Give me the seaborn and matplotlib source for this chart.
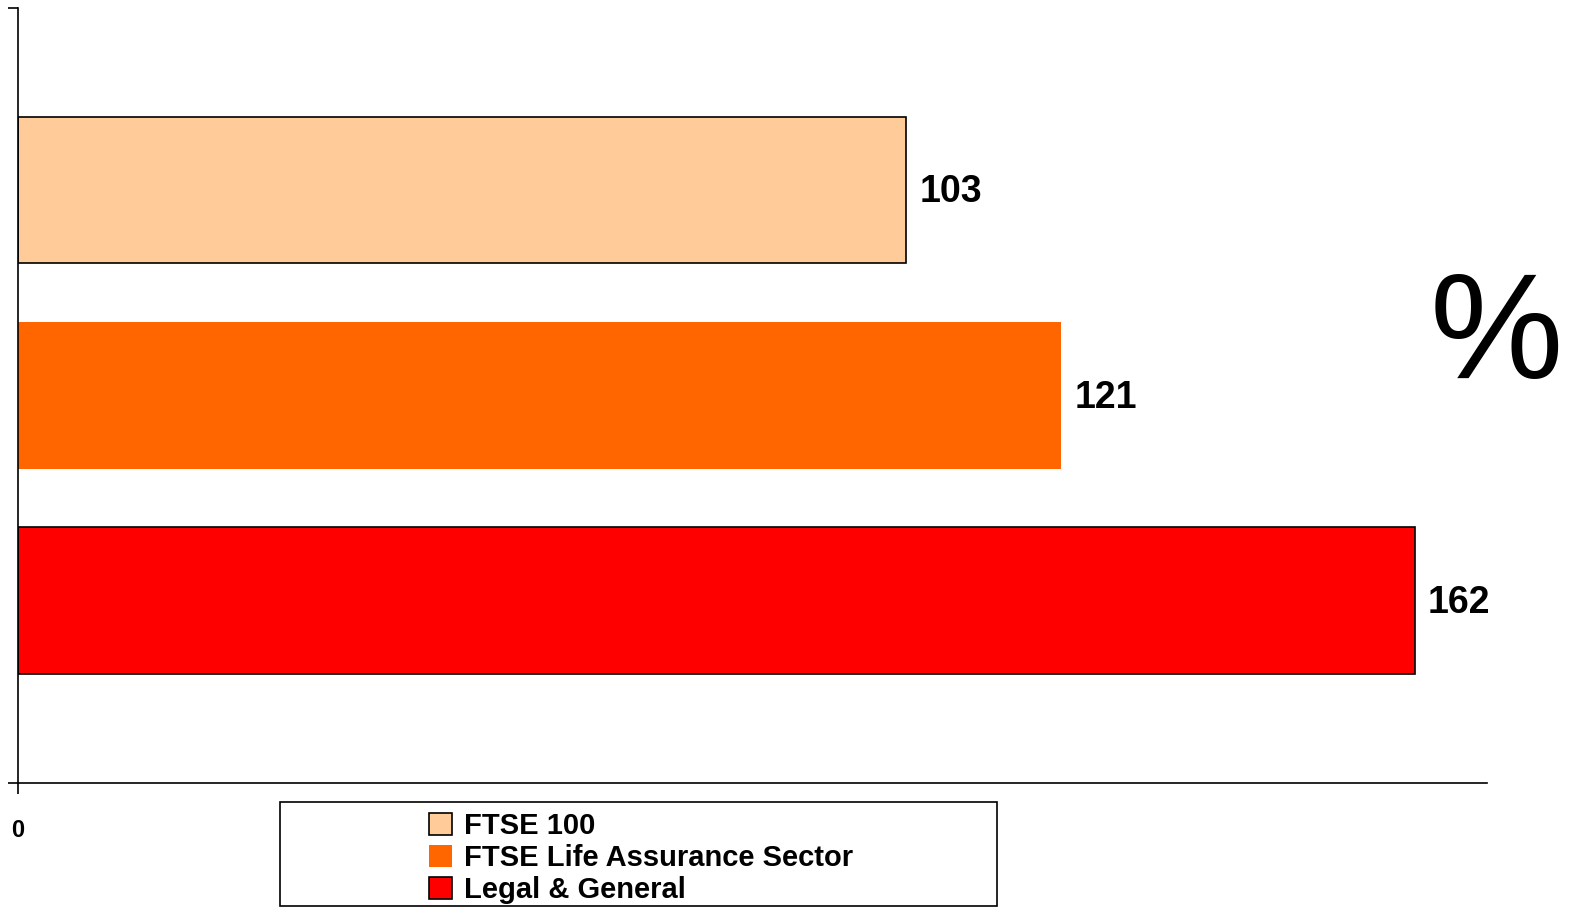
import matplotlib
matplotlib.use('Agg')
import matplotlib.pyplot as plt
import seaborn as sns
from matplotlib.patches import Rectangle

# data
series = ['FTSE 100', 'FTSE Life Assurance Sector', 'Legal & General']
values = [103, 121, 162]
colors = ['#FFCC99', '#FF6600', '#FF0000']
edges = ['black', 'none', 'black']

sns.set_style('white')
plt.rcParams['font.family'] = ['Liberation Sans', 'DejaVu Sans']
plt.rcParams['text.color'] = 'black'
plt.rcParams['xtick.color'] = 'black'
plt.rcParams['ytick.color'] = 'black'

fig = plt.figure(figsize=(15.73, 9.10), dpi=100)
ax = fig.add_axes([0.01144, 0.1396, 0.9336, 0.8516])

sns.barplot(x=values, y=series, hue=series, palette=colors, orient='h',
            width=0.715, legend=False, ax=ax, saturation=1)

for p, ec in zip(ax.patches, edges):
    p.set_edgecolor(ec)
    p.set_linewidth(1.2)

# value labels at bar ends
for i, v in enumerate(values):
    ax.text(v + 1.5, i + 0.01, str(v), va='center', ha='left',
            fontsize=27, fontweight='bold', color='black')

ax.set_xlim(0, 170.3)
ax.set_ylim(2.886, -0.886)
ax.set_xticks([0])
ax.set_xticklabels(['0'], fontsize=17, fontweight='bold')
ax.set_yticks([2.886, -0.886])
ax.set_yticklabels(['', ''])
ax.tick_params(axis='x', direction='out', length=8, width=1.2, pad=18, bottom=True)
ax.tick_params(axis='y', direction='out', length=7, width=1.2, left=True)
ax.set_xlabel('')
ax.set_ylabel('')
sns.despine(ax=ax, top=True, right=True)
for s in ['left', 'bottom']:
    ax.spines[s].set_linewidth(1.2)
    ax.spines[s].set_color('black')

# big percent sign on the right
fig.text(0.9515, 0.627, '%', fontsize=108, ha='center', va='center',
         color='black', family=['Liberation Sans', 'DejaVu Sans'])

# legend box below the axis
box = Rectangle((280 / 1573, 1 - 906 / 910), 717 / 1573, 104 / 910,
                transform=fig.transFigure, fill=False, edgecolor='black', linewidth=1.2)
fig.add_artist(box)
handles = [Rectangle((0, 0), 1, 1, facecolor=c, edgecolor=ec, linewidth=1.2)
           for c, ec in zip(colors, edges)]
fig.legend(handles, series, loc='center', bbox_to_anchor=(641 / 1573, 1 - 858 / 910),
           frameon=False, prop={'size': 21, 'weight': 'bold'},
           handlelength=0.8, handleheight=0.8, handletextpad=0.4,
           labelspacing=0.13, borderpad=0)

fig.savefig('out.png', dpi=100)
